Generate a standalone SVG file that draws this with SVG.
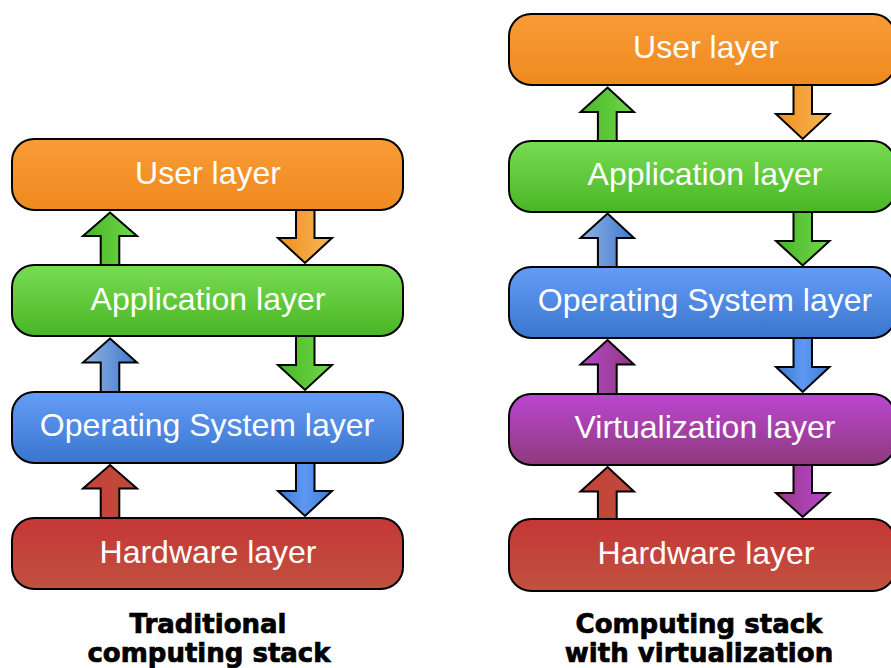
<svg xmlns="http://www.w3.org/2000/svg" width="891" height="668" viewBox="0 0 891 668">
  <defs>
    <style>
      .box { stroke: #000; stroke-width: 2; }
      .lbl { font-family: "Liberation Sans", Arial, sans-serif; font-size: 32px; fill: #fff; text-anchor: middle; }
      .cap { font-family: "DejaVu Sans", Verdana, sans-serif; font-weight: bold; font-size: 26px; fill: #000; stroke: #000; stroke-width: 0.7; text-anchor: middle; }
      .arw { stroke: #000; stroke-width: 2; stroke-linejoin: miter; }
    </style>
    <!-- layer fills: lighter at the top, darker at the bottom -->
    <linearGradient id="gUser" x1="0" y1="0" x2="0" y2="1">
      <stop offset="0" stop-color="#fa9b36"/>
      <stop offset="1" stop-color="#ee8a1f"/>
    </linearGradient>
    <linearGradient id="gApp" x1="0" y1="0" x2="0" y2="1">
      <stop offset="0" stop-color="#78dc54"/>
      <stop offset="1" stop-color="#4ab624"/>
    </linearGradient>
    <linearGradient id="gOs" x1="0" y1="0" x2="0" y2="1">
      <stop offset="0" stop-color="#659cf7"/>
      <stop offset="1" stop-color="#3a76cd"/>
    </linearGradient>
    <linearGradient id="gVirt" x1="0" y1="0" x2="0" y2="1">
      <stop offset="0" stop-color="#bb46d2"/>
      <stop offset="1" stop-color="#8e3a7c"/>
    </linearGradient>
    <linearGradient id="gHw" x1="0" y1="0" x2="0" y2="1">
      <stop offset="0" stop-color="#c53735"/>
      <stop offset="1" stop-color="#c05140"/>
    </linearGradient>
    <!-- arrow fills: horizontal shading -->
    <linearGradient id="aGreen" x1="0" y1="0" x2="1" y2="0">
      <stop offset="0" stop-color="#48b526"/>
      <stop offset="1" stop-color="#70d84b"/>
    </linearGradient>
    <linearGradient id="aOrange" x1="0" y1="0" x2="1" y2="0">
      <stop offset="0" stop-color="#ef8e1f"/>
      <stop offset="1" stop-color="#f8b757"/>
    </linearGradient>
    <linearGradient id="aBlueUp" x1="0" y1="0" x2="1" y2="0">
      <stop offset="0" stop-color="#92b3de"/>
      <stop offset="1" stop-color="#3d78d0"/>
    </linearGradient>
    <linearGradient id="aBlueDown" x1="0" y1="0" x2="1" y2="0">
      <stop offset="0" stop-color="#3b77cf"/>
      <stop offset="0.5" stop-color="#5e98f2"/>
      <stop offset="1" stop-color="#3f7ad2"/>
    </linearGradient>
    <linearGradient id="aRed" x1="0" y1="0" x2="1" y2="0">
      <stop offset="0" stop-color="#c9423a"/>
      <stop offset="1" stop-color="#bd4a3c"/>
    </linearGradient>
    <linearGradient id="aPurpleUp" x1="0" y1="0" x2="1" y2="0">
      <stop offset="0" stop-color="#b848cc"/>
      <stop offset="1" stop-color="#8d3a7e"/>
    </linearGradient>
    <linearGradient id="aPurpleDown" x1="0" y1="0" x2="1" y2="0">
      <stop offset="0" stop-color="#953a88"/>
      <stop offset="1" stop-color="#ba47d0"/>
    </linearGradient>
  </defs>

  <rect width="891" height="668" fill="#fff"/>

  <!-- arrows between layers -->
  <g id="connectors">
    <!-- left stack -->
    <path class="arw" fill="url(#aGreen)" d="M110,212.5 L137,236 L119.3,236 L119.3,267 L100.7,267 L100.7,236 L83,236 Z"/>
    <path class="arw" fill="url(#aOrange)" d="M296,208 L314.5,208 L314.5,238 L332,238 L305,263 L278,238 L296,238 Z"/>
    <path class="arw" fill="url(#aBlueUp)" d="M110,338.5 L137,362.5 L119.3,362.5 L119.3,394 L100.7,394 L100.7,362.5 L83,362.5 Z"/>
    <path class="arw" fill="url(#aGreen)" d="M296,334 L314.5,334 L314.5,365 L332,365 L305,390 L278,365 L296,365 Z"/>
    <path class="arw" fill="url(#aRed)" d="M110,465 L137,488.5 L119.3,488.5 L119.3,520 L100.7,520 L100.7,488.5 L83,488.5 Z"/>
    <path class="arw" fill="url(#aBlueDown)" d="M296,461 L314.5,461 L314.5,491 L332,491 L305,516 L278,491 L296,491 Z"/>

    <!-- right stack -->
    <path class="arw" fill="url(#aGreen)" d="M607.5,87.5 L634,112 L616.7,112 L616.7,143 L597.9,143 L597.9,112 L580.5,112 Z"/>
    <path class="arw" fill="url(#aOrange)" d="M793.5,83 L812,83 L812,114 L829.5,114 L802.7,139 L776,114 L793.5,114 Z"/>
    <path class="arw" fill="url(#aBlueUp)" d="M607.5,213.5 L634,238 L616.7,238 L616.7,269 L597.9,269 L597.9,238 L580.5,238 Z"/>
    <path class="arw" fill="url(#aGreen)" d="M793.5,210 L812,210 L812,241 L829.5,241 L802.7,265.5 L776,241 L793.5,241 Z"/>
    <path class="arw" fill="url(#aPurpleUp)" d="M607.5,340 L634,364.5 L616.7,364.5 L616.7,396 L597.9,396 L597.9,364.5 L580.5,364.5 Z"/>
    <path class="arw" fill="url(#aBlueDown)" d="M793.5,336 L812,336 L812,367 L829.5,367 L802.7,392 L776,367 L793.5,367 Z"/>
    <path class="arw" fill="url(#aRed)" d="M607.5,467 L634,491.5 L616.7,491.5 L616.7,521 L597.9,521 L597.9,491.5 L580.5,491.5 Z"/>
    <path class="arw" fill="url(#aPurpleDown)" d="M793.5,463 L812,463 L812,493 L829.5,493 L802.7,517 L776,493 L793.5,493 Z"/>
  </g>

  <!-- traditional stack -->
  <g id="trad-user">
    <rect class="box" x="12" y="139" width="391" height="71" rx="22" fill="url(#gUser)"/>
    <text class="lbl" x="208" y="184">User layer</text>
  </g>
  <g id="trad-app">
    <rect class="box" x="12" y="265" width="391" height="71" rx="22" fill="url(#gApp)"/>
    <text class="lbl" x="208" y="310">Application layer</text>
  </g>
  <g id="trad-os">
    <rect class="box" x="12" y="392" width="391" height="71" rx="22" fill="url(#gOs)"/>
    <text class="lbl" x="207" y="436">Operating System layer</text>
  </g>
  <g id="trad-hw">
    <rect class="box" x="12" y="518" width="391" height="71" rx="22" fill="url(#gHw)"/>
    <text class="lbl" x="208" y="563">Hardware layer</text>
  </g>
  <g id="trad-caption">
    <text class="cap" x="208" y="633">Traditional</text>
    <text class="cap" x="209" y="662">computing stack</text>
  </g>

  <!-- virtualized stack -->
  <g id="virt-user">
    <rect class="box" x="509" y="14" width="386" height="71" rx="22" fill="url(#gUser)"/>
    <text class="lbl" x="706" y="58">User layer</text>
  </g>
  <g id="virt-app">
    <rect class="box" x="509" y="141" width="386" height="71" rx="22" fill="url(#gApp)"/>
    <text class="lbl" x="705" y="185">Application layer</text>
  </g>
  <g id="virt-os">
    <rect class="box" x="509" y="267" width="386" height="71" rx="22" fill="url(#gOs)"/>
    <text class="lbl" x="705" y="311">Operating System layer</text>
  </g>
  <g id="virt-virt">
    <rect class="box" x="509" y="394" width="386" height="71" rx="22" fill="url(#gVirt)"/>
    <text class="lbl" x="705" y="438">Virtualization layer</text>
  </g>
  <g id="virt-hw">
    <rect class="box" x="509" y="519" width="386" height="72" rx="22" fill="url(#gHw)"/>
    <text class="lbl" x="706" y="564">Hardware layer</text>
  </g>
  <g id="virt-caption">
    <text class="cap" x="699" y="633">Computing stack</text>
    <text class="cap" x="699" y="662">with virtualization</text>
  </g>
</svg>
